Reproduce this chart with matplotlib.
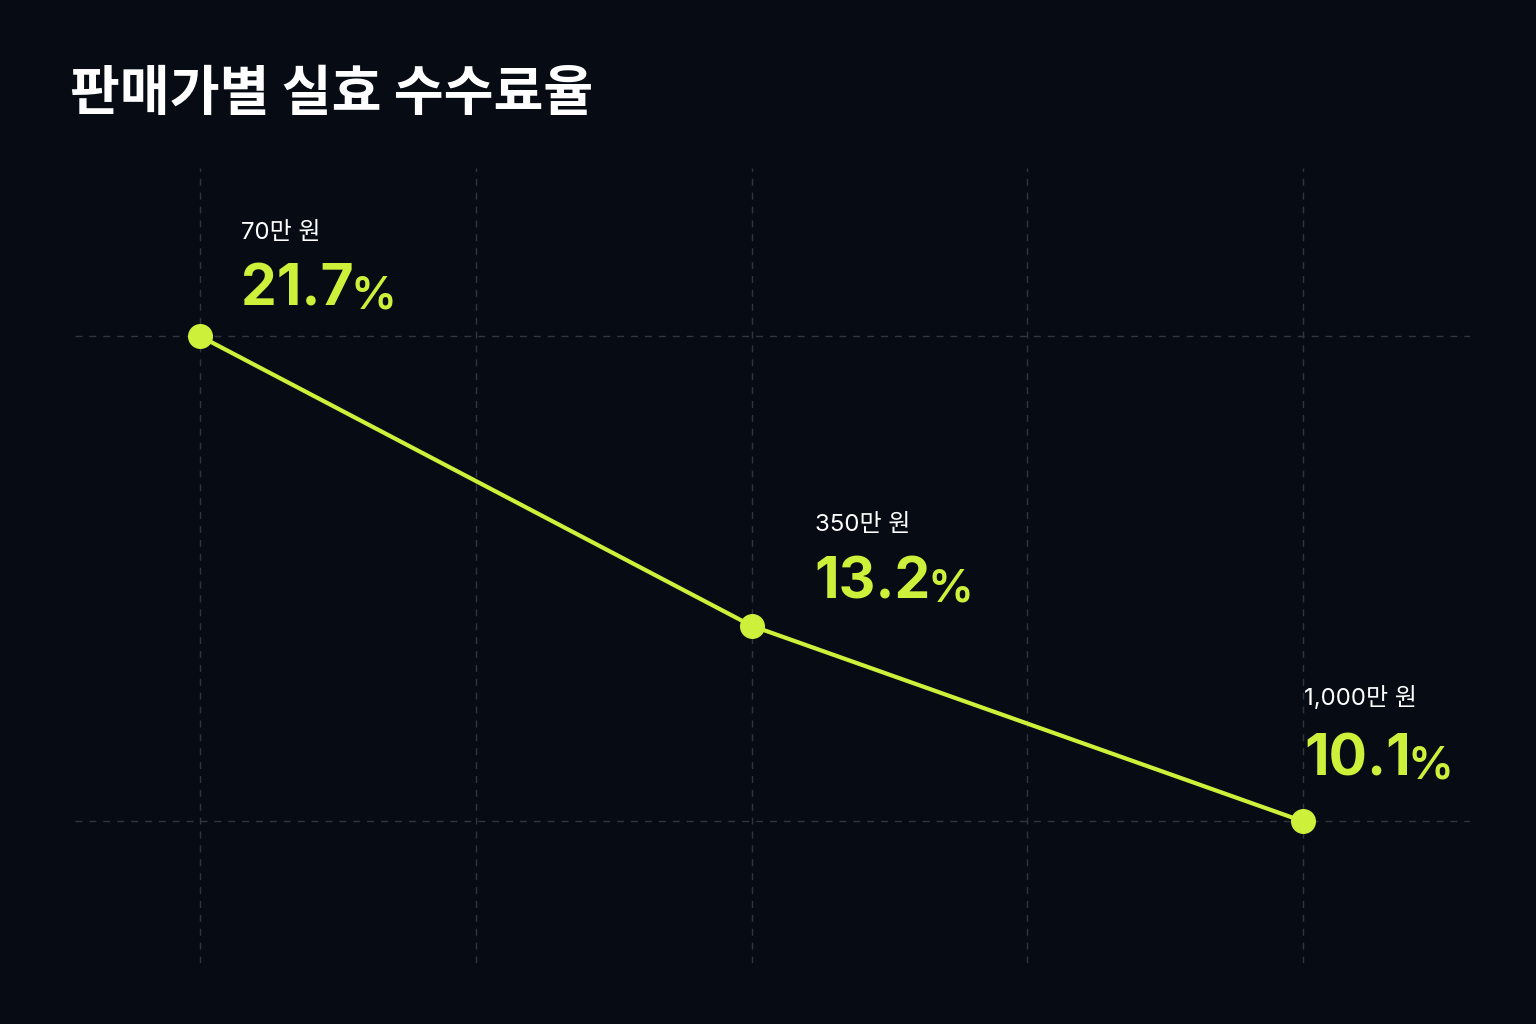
#!/usr/bin/env python3
import numpy as np
import matplotlib
matplotlib.use('Agg')
import matplotlib.pyplot as plt

# Data
priceLabels = ['70만 원', '350만 원', '1,000만 원']
feeRates    = [21.7, 13.2, 10.1]
titleStr    = '판매가별 실효 수수료율'

# Styles
bgColor   = '#070b13'
limeColor = '#cdf03a'
gridColor = '#30363f'
korFont   = ['Noto Sans CJK KR', 'DejaVu Sans']
numFont   = ['Inter', 'Noto Sans CJK KR', 'DejaVu Sans']

# per-point label offsets in pixels (label line, number line)
labelOffsets = [(41, 97), (63, 95), (1, 116)]
numOffsets   = [(41, 31), (63, 27), (1, 46)]

W, H = 1536, 1024
fig = plt.figure(figsize=(W / 100, H / 100), dpi=100)
fig.patch.set_facecolor(bgColor)

# axes box = extent of the dashed grid
left, right, top, bottom = 75, 1470, 168, 963
ax = fig.add_axes([left / W, 1 - bottom / H, (right - left) / W, (bottom - top) / H])
ax.set_facecolor('none')

x = np.arange(len(feeRates))

# compressed value scale so the drop flattens at low rates
p = 0.6
ax.set_yscale('function', functions=(lambda v: -np.power(np.clip(v, 1e-3, None), -p),
                                     lambda u: np.power(np.clip(-u, 1e-6, None), -1 / p)))

ax.plot(x, feeRates, '-', color=limeColor, lw=3.0, zorder=3, solid_capstyle='round')
ax.plot(x, feeRates, 'o', color=limeColor, ms=17, zorder=4)

ax.set_xlim(-0.2267, 2.3028)
ax.set_ylim(8.52, 31.6)

# dashed grid
ax.set_xticks(np.arange(0, len(feeRates) - 0.5, 0.5))
ax.set_yticks([min(feeRates), max(feeRates)])
ax.grid(True, color=gridColor, lw=1.0, ls=(0, (5, 5)))
ax.tick_params(length=0, labelbottom=False, labelleft=False)
for s in ax.spines.values():
    s.set_visible(False)

# labels
for i, (lab, val) in enumerate(zip(priceLabels, feeRates)):
    ax.annotate(lab, xy=(x[i], val), xytext=labelOffsets[i], textcoords='offset pixels',
                ha='left', va='baseline', color='white', fontsize=17.3,
                family=numFont, zorder=5)
    numTxt = ax.annotate(f'{val:.1f}', xy=(x[i], val), xytext=numOffsets[i],
                         textcoords='offset pixels', ha='left', va='baseline',
                         color=limeColor, fontsize=41, fontweight='bold',
                         family=numFont, zorder=5)
    ax.annotate('%', xy=(1, 0), xycoords=numTxt, xytext=(-3, 0), textcoords='offset pixels',
                ha='left', va='bottom', color=limeColor, fontsize=33,
                fontweight='semibold', family=numFont, zorder=5)

# title
fig.text(70 / W, 1 - 67 / H, titleStr, ha='left', va='top', color='white',
         fontsize=39, fontweight='bold', family=korFont)

fig.savefig('out.png', dpi=100, facecolor=bgColor)
